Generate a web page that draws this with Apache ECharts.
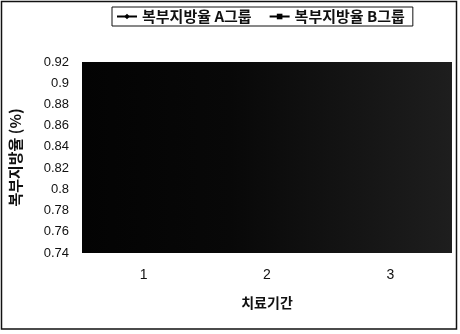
<!DOCTYPE html>
<html>
<head>
<meta charset="utf-8">
<script src="https://cdn.jsdelivr.net/npm/echarts@6/dist/echarts.min.js"></script>
<style>
  html, body { margin: 0; padding: 0; background: #fff; }
  #chart { width: 460px; height: 334px; }
</style>
</head>
<body>
<div id="chart"></div>
<script>
// 치료기간별 복부지방율
const periods = ['1', '2', '3'];
const groupA = [0.86, 0.84, 0.82];
const groupB = [0.85, 0.83, 0.80];
const seriesNames = ['복부지방율 A그룹', '복부지방율 B그룹'];
const yMin = 0.74, yMax = 0.92, yStep = 0.02;

const fontLatin = '"Liberation Sans", Arial, "Noto Sans CJK KR", sans-serif';
const fontKr = '"Noto Sans CJK KR", "Liberation Sans", sans-serif';

const chart = echarts.init(document.getElementById('chart'), null, { renderer: 'canvas' });
chart.setOption({
  backgroundColor: '#ffffff',
  animation: false,
  graphic: [{
    type: 'rect',
    shape: { x: 1.5, y: 1.5, width: 455, height: 327.5 },
    style: { fill: 'none', stroke: '#111', lineWidth: 1.5 },
    z: 10
  }],
  legend: {
    top: 7,
    left: 112,
    padding: [2, 8, 2, 4],
    borderColor: '#111',
    borderWidth: 1,
    itemGap: 17,
    itemWidth: 20,
    itemHeight: 7,
    textStyle: { fontFamily: fontKr, fontSize: 15, fontWeight: 'bold', color: '#111' },
    data: seriesNames
  },
  grid: {
    left: 81, right: 8, top: 62, bottom: 81,
    show: true,
    borderWidth: 0,
    backgroundColor: new echarts.graphic.LinearGradient(0, 0, 1, 0, [
      { offset: 0, color: '#030303' },
      { offset: 0.4, color: '#080808' },
      { offset: 1, color: '#1e1e1e' }
    ])
  },
  xAxis: {
    type: 'category',
    data: periods,
    boundaryGap: true,
    name: '치료기간',
    nameLocation: 'middle',
    nameGap: 43,
    nameTextStyle: { fontFamily: fontKr, fontSize: 14, fontWeight: 'bold', color: '#111' },
    axisLine: { show: false },
    axisTick: { show: false },
    axisLabel: { margin: 15, fontFamily: fontLatin, fontSize: 14, color: '#111' }
  },
  yAxis: {
    type: 'value',
    min: yMin,
    max: yMax,
    interval: yStep,
    name: '복부지방율 (%)',
    nameLocation: 'middle',
    nameGap: 59,
    nameRotate: 90,
    nameTextStyle: { fontFamily: fontKr, fontSize: 15, fontWeight: 'bold', color: '#111' },
    axisLine: { show: false },
    axisTick: { show: false },
    splitLine: { show: false },
    axisLabel: {
      margin: 13,
      fontFamily: fontLatin,
      fontSize: 13,
      color: '#111',
      formatter: v => String(parseFloat(v.toFixed(2)))
    }
  },
  series: [
    {
      name: seriesNames[0],
      type: 'line',
      z: -1,
      data: groupA,
      symbol: 'diamond',
      symbolSize: 8,
      lineStyle: { color: '#000', width: 1.5 },
      itemStyle: { color: '#000' }
    },
    {
      name: seriesNames[1],
      type: 'line',
      z: -1,
      data: groupB,
      symbol: 'rect',
      symbolSize: 6,
      lineStyle: { color: '#000', width: 1.5 },
      itemStyle: { color: '#000' }
    }
  ]
});
</script>
</body>
</html>
